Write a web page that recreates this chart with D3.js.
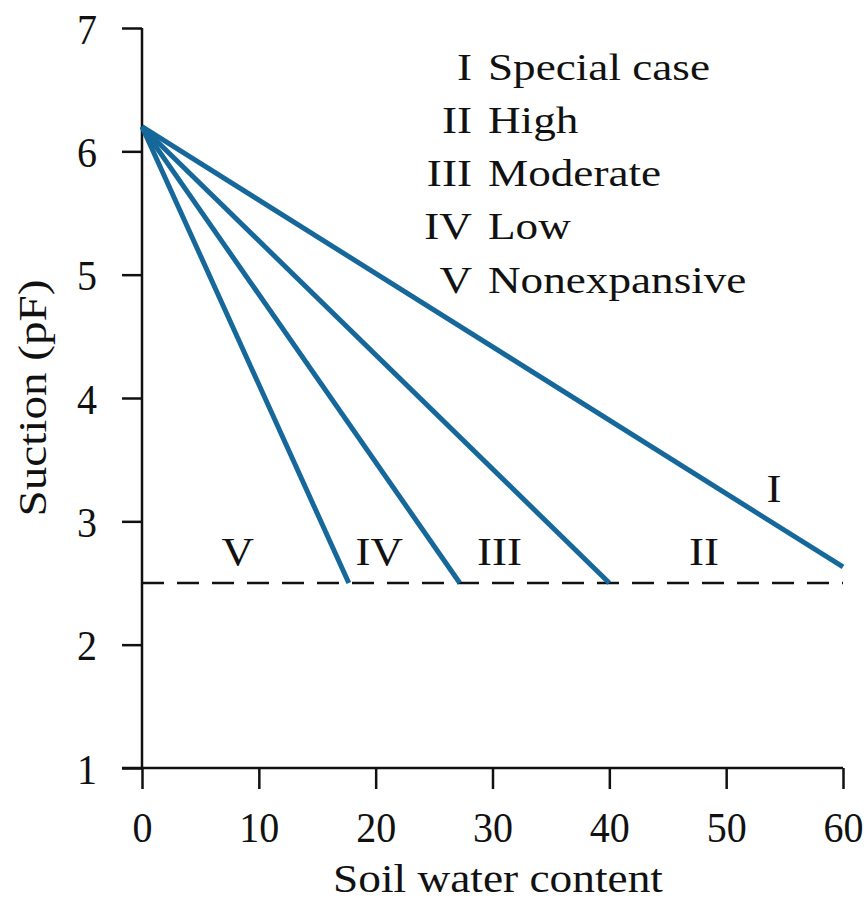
<!DOCTYPE html>
<html><head><meta charset="utf-8">
<script src="https://cdn.jsdelivr.net/npm/d3@7"></script>
<style>body{margin:0;background:#fff}svg{display:block}</style>
</head><body><svg id="c" width="868" height="901"></svg>
<script>
const xTicks=[0,10,20,30,40,50,60];
const yTicks=[1,2,3,4,5,6,7];
const classes=["I","II","III","IV","V"];
const classNames=["Special case","High","Moderate","Low","Nonexpansive"];
const startPoint=[0,6.2];
const endX=[60,40,27.2,17.7];
const endY=[2.63,2.5,2.5,2.5];
const thresholdY=2.5;
const regionLabels=["V","IV","III","II","I"];
const regionX=[8.2,20.3,30.6,48.1,54.1];
const regionY=[2.65,2.65,2.65,2.65,3.16];

const W=868,H=901,m={l:142,r:25,t:28,b:133};
const FONT="'Liberation Serif', Tinos, 'Times New Roman', Times, serif";
const svg=d3.select("#c");
const x=d3.scaleLinear().domain([0,60]).range([m.l,W-m.r]);
const y=d3.scaleLinear().domain([1,7]).range([H-m.b,m.t]);
const fsLeg=38, fsTick=42, fsReg=41, fsTitle=41;

function measure(txt,fs){const p=svg.append("text").attr("font-size",fs).style("font-family",FONT).text(txt);
 const w=p.node().getComputedTextLength(); p.remove(); return w;}
const clamp=v=>Math.max(0.75,Math.min(1.4,v));
const sxLeg=clamp(222/measure("Special case",fsLeg));
const sxTick=clamp(40/measure("10",fsTick));
const sxReg=clamp(30/measure("II",fsReg));
const sxX=clamp(330/measure("Soil water content",fsTitle));
const sxY=clamp(237/measure("Suction (pF)",fsTitle));

function styleText(sel,fs){sel.style("font-family",FONT).attr("font-size",fs).attr("fill","#111");}

const gx=svg.append("g").attr("transform",`translate(0,${y(1)})`)
 .call(d3.axisBottom(x).tickValues(xTicks).tickFormat(d3.format("d")).tickSize(21).tickSizeOuter(0).tickPadding(23));
const gy=svg.append("g").attr("transform",`translate(${x(0)},0)`)
 .call(d3.axisLeft(y).tickValues(yTicks).tickFormat(d3.format("d")).tickSize(20).tickSizeOuter(0).tickPadding(25));
[gx,gy].forEach(g=>{g.select(".domain").attr("stroke","#111").attr("stroke-width",2.5);
 g.selectAll(".tick line").attr("stroke","#111").attr("stroke-width",2.5);
 g.selectAll(".tick text").call(styleText,fsTick);});
gx.select(".domain").attr("d",`M${x(0)-20},0H${x(60)}`);
gy.select(".domain").attr("d",`M0,${y(7)}V${y(1)}`);
gx.selectAll(".tick text").attr("transform",`scale(${sxTick},1)`);
gy.selectAll(".tick text").attr("dy","0.36em").each(function(){
 const t=d3.select(this); const xx=+t.attr("x"); t.attr("x",xx/sxTick).attr("transform",`scale(${sxTick},1)`);});

// dashed threshold
svg.append("line").attr("x1",x(0)).attr("x2",x(60)).attr("y1",y(thresholdY)).attr("y2",y(thresholdY))
 .attr("stroke","#111").attr("stroke-width",2.5).attr("stroke-dasharray","22,13");

// class lines
endX.forEach((ex,i)=>{
 svg.append("line").attr("x1",x(startPoint[0])).attr("y1",y(startPoint[1]))
  .attr("x2",x(ex)).attr("y2",y(endY[i])).attr("stroke","#16679a").attr("stroke-width",5).attr("stroke-linecap","butt");
});

// region labels
regionLabels.forEach((t,i)=>{
 svg.append("text").attr("transform",`translate(${x(regionX[i])},${y(regionY[i])}) scale(${sxReg},1)`)
  .attr("text-anchor","middle").call(styleText,fsReg).text(t);
});

// legend
classes.forEach((c,i)=>{
 const by=79.5+i*53.3;
 svg.append("text").attr("transform",`translate(472,${by}) scale(${sxLeg},1)`).attr("text-anchor","end").call(styleText,fsLeg).text(c);
 svg.append("text").attr("transform",`translate(488,${by}) scale(${sxLeg},1)`).call(styleText,fsLeg).text(classNames[i]);
});

// axis titles
svg.append("text").attr("transform",`translate(498,892) scale(${sxX},1)`).attr("text-anchor","middle").call(styleText,fsTitle).text("Soil water content");
svg.append("text").attr("transform",`translate(46,398) rotate(-90) scale(${sxY},1)`).attr("text-anchor","middle").call(styleText,fsTitle).text("Suction (pF)");
</script></body></html>
